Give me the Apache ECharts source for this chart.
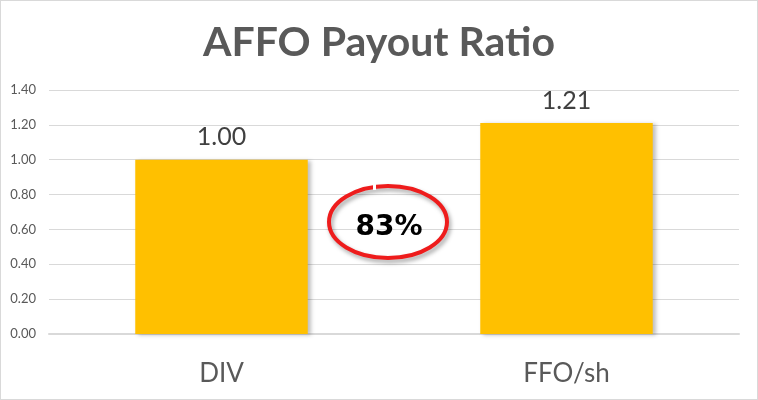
<!DOCTYPE html>
<html lang="en">
<head>
    <meta charset="UTF-8">
    <title>AFFO Payout Ratio</title>
    <style>
        html, body { margin: 0; padding: 0; background: #fff; }
        #chart {
            width: 756px;
            height: 398px;
            border: 1px solid #d9d9d9;
        }
    </style>
</head>
<body>
<div id="chart"></div>
<script src="https://cdn.jsdelivr.net/npm/echarts@6/dist/echarts.min.js"></script>
<script>
    // data
    var categories = ['DIV', 'FFO/sh'];
    var values = [1.00, 1.21];
    var ratioText = '83%';

    var myChart = echarts.init(document.getElementById('chart'));

    var option = {
        animation: false,
        title: {
            text: 'AFFO Payout Ratio',
            left: 'center',
            top: 16,
            textStyle: {
                fontFamily: 'Lato',
                fontWeight: 'bold',
                fontSize: 41,
                color: '#595959'
            }
        },
        grid: {
            left: 48,
            right: 18,
            top: 89,
            bottom: 65
        },
        xAxis: {
            type: 'category',
            data: categories,
            axisLine: { lineStyle: { color: '#d9d9d9', width: 2 } },
            axisTick: { show: false },
            axisLabel: {
                margin: 27,
                fontFamily: 'Lato',
                fontSize: 26,
                color: '#595959'
            }
        },
        yAxis: {
            type: 'value',
            min: 0,
            max: 1.4,
            interval: 0.2,
            axisLine: { show: false },
            axisTick: { show: false },
            splitLine: { lineStyle: { color: '#d9d9d9', width: 1 } },
            axisLabel: {
                margin: 13,
                fontFamily: 'Lato',
                fontSize: 13,
                color: '#595959',
                formatter: function (v) { return v.toFixed(2); }
            }
        },
        series: [{
            type: 'bar',
            data: values,
            barWidth: '50%',
            itemStyle: {
                color: '#ffc000',
                shadowColor: 'rgba(0,0,0,0.25)',
                shadowBlur: 4,
                shadowOffsetX: 3,
                shadowOffsetY: 1
            },
            label: {
                show: true,
                position: 'top',
                distance: 10,
                fontFamily: 'Lato',
                fontSize: 25,
                color: '#404040',
                formatter: function (p) { return p.value.toFixed(2); }
            }
        }],
        // hand drawn circle with the ratio between the bars
        graphic: [{
            type: 'ellipse',
            shape: { cx: 387, cy: 221, rx: 59, ry: 36 },
            style: {
                fill: 'none',
                stroke: '#ee1c1c',
                lineWidth: 4,
                shadowColor: 'rgba(0,0,0,0.35)',
                shadowBlur: 4,
                shadowOffsetX: 2,
                shadowOffsetY: 3
            },
            z: 10
        }, {
            // small break in the stroke at the top
            type: 'rect',
            shape: { x: 372, y: 181, width: 3, height: 8 },
            style: { fill: '#fff' },
            z: 11
        }, {
            type: 'text',
            x: 388,
            y: 227,
            style: {
                text: ratioText,
                fontFamily: 'DejaVu Sans',
                fontWeight: 'bold',
                fontSize: 28,
                fill: '#000',
                align: 'center',
                verticalAlign: 'middle'
            },
            z: 12
        }]
    };

    myChart.setOption(option);
</script>
</body>
</html>
